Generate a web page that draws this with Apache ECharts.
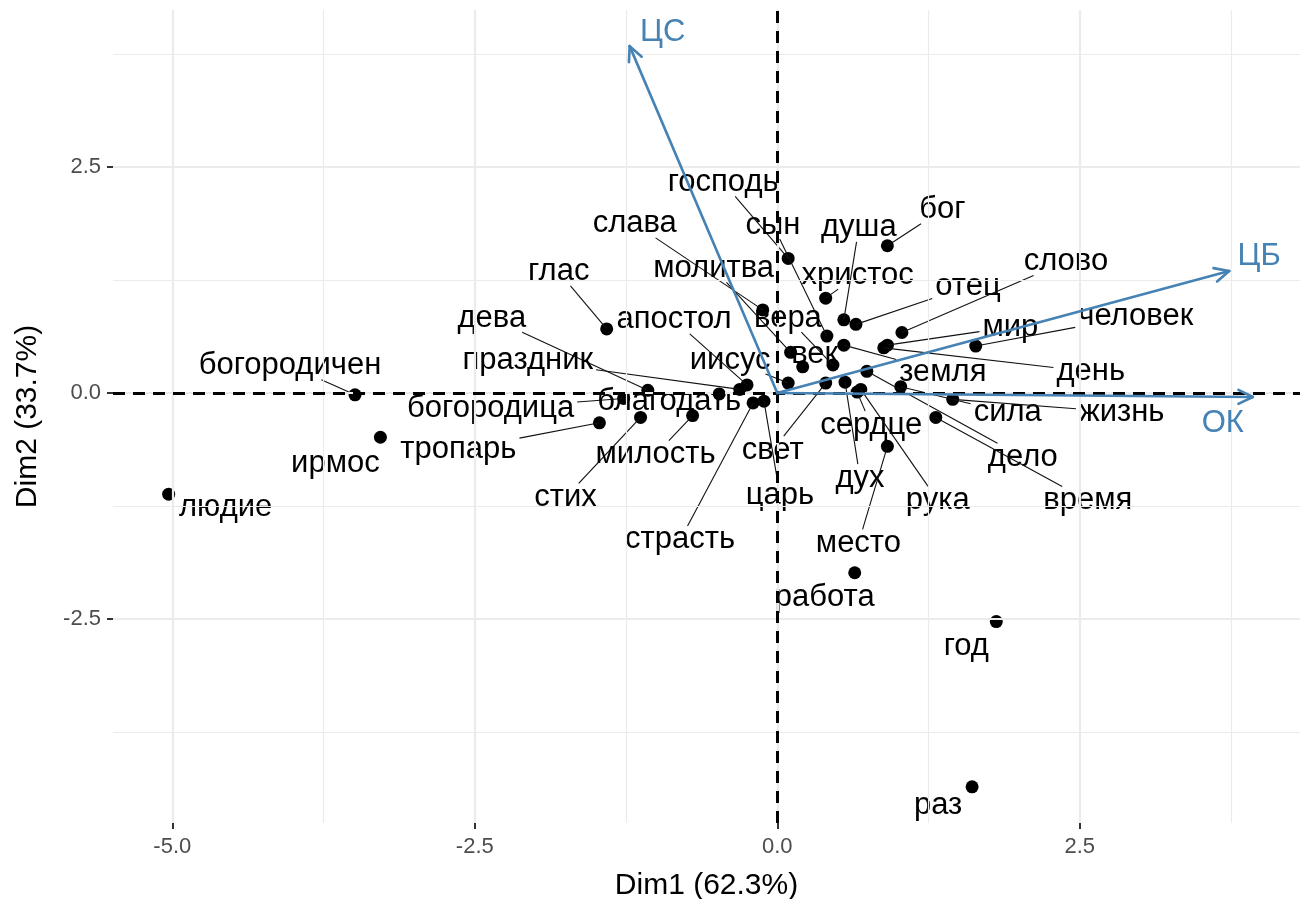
<!DOCTYPE html>
<html lang="ru">
<head>
<meta charset="UTF-8">
<title>PCA: слова и переменные</title>
<script src="https://cdn.jsdelivr.net/npm/echarts@6/dist/echarts.min.js"></script>
</head>
<body style="margin:0;background:#fff">
<div id="main" style="width:1314px;height:899px"></div>
<script>
// слова (индивиды) и их координаты
var words = ['людие','богородичен','ирмос','глас','дева','богородица','стих','тропарь','милость','благодать',
  'праздник','апостол','страсть','царь','господь','слава','молитва','иисус','христос','душа',
  'отец','сын','век','вера','земля','день','мир','слово','бог','человек',
  'дело','дух','свет','сердце','рука','сила','жизнь','время','место','работа','год','раз'];
var dim1 = [-5.03,-3.49,-3.28,-1.41,-1.07,-1.27,-1.13,-1.47,-0.70,-0.48,
  -0.31,-0.25,-0.20,-0.11,0.09,-0.12,0.11,0.09,0.40,0.55,
  0.65,0.41,0.21,0.46,0.55,0.88,0.91,1.03,0.91,1.64,
  0.74,0.56,0.40,0.66,0.69,1.02,1.45,1.31,0.91,0.64,1.81,1.61];
var dim2 = [-1.12,-0.02,-0.49,0.71,0.03,-0.06,-0.27,-0.33,-0.25,-0.01,
  0.04,0.09,-0.11,-0.09,1.49,0.92,0.45,0.11,1.05,0.81,
  0.76,0.63,0.29,0.31,0.53,0.50,0.53,0.67,1.63,0.52,
  0.24,0.12,0.11,0.01,0.04,0.07,-0.07,-0.27,-0.59,-1.99,-2.53,-4.36];

// переменные (стрелки)
var varNames = ['ЦС','ЦБ','ОК'];
var varDim1 = [-1.22, 3.735, 3.93];
var varDim2 = [3.84, 1.35, -0.044];

var xTicks = [-5, -2.5, 0, 2.5];
var yTicks = [-2.5, 0, 2.5];
var xMinor = [-3.75, -1.25, 1.25, 3.75];
var yMinor = [-3.75, -1.25, 1.25, 3.75];

// сдвиги подписей от точки, px (как разложил ggrepel)
var labelShift = [[57,13],[-65,-29],[-45,26],[-48,-57],[-156,-72],[-133,10],[-75,80],[-141,27],[-37,39],[-50,8],
  [-212,-29],[-73,-65],[-73,137],[16,94],[-65,-76],[-128,-86],[-77,-84],[-58,-23],[32,-23],[15,-92],
  [112,-38],[-54,-111],[12,-12],[-45,-47],[99,27],[207,24],[123,-18],[164,-71],[55,-36],[160,-30],
  [156,86],[15,96],[-53,67],[14,33],[77,111],[107,26],[169,13],[152,83],[-29,97],[-30,25],[-30,25],[-34,19]];
var varLabelShift = [[33,-14],[30,-15],[-30,26]];
// подписи, у которых ggrepel не провёл линию
var noSegment = ['людие', 'ирмос', 'работа', 'год', 'раз'];

var FONT = '31px "Liberation Sans", Arial, sans-serif';
var ctx = document.createElement('canvas').getContext('2d');
ctx.font = FONT;
function textW(s) { return ctx.measureText(s).width; }

var myChart = echarts.init(document.getElementById('main'));

function renderWord(params, api) {
    var i = api.value(2);
    var p = api.coord([api.value(0), api.value(1)]);
    var s = labelShift[i];
    var cx = p[0] + s[0], cy = p[1] + s[1];
    var hw = textW(words[i]) / 2 + 3, hh = 14;
    var dx = p[0] - cx, dy = p[1] - cy;
    var children = [];
    if (noSegment.indexOf(words[i]) < 0 && (Math.abs(dx) > hw || Math.abs(dy) > hh)) {
        var t = Math.min(hw / Math.max(Math.abs(dx), 1e-9), hh / Math.max(Math.abs(dy), 1e-9));
        var ex = cx + dx * t, ey = cy + dy * t;
        if (Math.hypot(p[0] - ex, p[1] - ey) > 12) {
            children.push({type: 'line', shape: {x1: p[0], y1: p[1], x2: ex, y2: ey},
                style: {stroke: '#111', lineWidth: 1.1}});
        }
    }
    children.push({type: 'text', x: cx, y: cy,
        style: {text: words[i], fill: '#000', font: FONT, align: 'center', verticalAlign: 'middle'}});
    return {type: 'group', children: children};
}

function renderArrow(params, api) {
    var i = api.value(2);
    var o = api.coord([0, 0]);
    var p = api.coord([api.value(0), api.value(1)]);
    var a = Math.atan2(p[1] - o[1], p[0] - o[0]);
    var L = 16, w = Math.PI / 7;
    var stroke = {stroke: '#4682B4', fill: null, lineWidth: 2.6, lineCap: 'round', lineJoin: 'round'};
    var s = varLabelShift[i];
    return {type: 'group', children: [
        {type: 'line', shape: {x1: o[0], y1: o[1], x2: p[0], y2: p[1]}, style: stroke},
        {type: 'line', shape: {x1: p[0], y1: p[1],
            x2: p[0] - L * Math.cos(a - w), y2: p[1] - L * Math.sin(a - w)}, style: stroke},
        {type: 'line', shape: {x1: p[0], y1: p[1],
            x2: p[0] - L * Math.cos(a + w), y2: p[1] - L * Math.sin(a + w)}, style: stroke},
        {type: 'text', x: p[0] + s[0], y: p[1] + s[1], style: {text: varNames[i], fill: '#4682B4',
            font: FONT, align: 'center', verticalAlign: 'middle'}}
    ]};
}

function vLines(vals, w) {
    return vals.map(function (v) { return {xAxis: v, lineStyle: {width: w}}; });
}
function hLines(vals, w) {
    return vals.map(function (v) { return {yAxis: v, lineStyle: {width: w}}; });
}

myChart.setOption({
    animation: false,
    grid: {left: 113, right: 14, top: 10, bottom: 76, containLabel: false, outerBoundsMode: 'none'},
    xAxis: {
        type: 'value', min: -5.49, max: 4.32,
        name: 'Dim1 (62.3%)', nameLocation: 'middle', nameGap: 48,
        nameTextStyle: {color: '#000', fontSize: 30, fontFamily: 'Liberation Sans'},
        axisLine: {show: false, onZero: false},
        axisTick: {show: true, customValues: xTicks, length: 6, lineStyle: {color: '#333', width: 2}},
        axisLabel: {customValues: xTicks, color: '#4d4d4d', fontSize: 22, margin: 13,
            fontFamily: 'Liberation Sans', formatter: function (v) { return v.toFixed(1); }},
        splitLine: {show: false}
    },
    yAxis: {
        type: 'value', min: -4.76, max: 4.24,
        name: 'Dim2 (33.7%)', nameLocation: 'middle', nameGap: 70, nameRotate: 90,
        nameTextStyle: {color: '#000', fontSize: 30, fontFamily: 'Liberation Sans'},
        axisLine: {show: false, onZero: false},
        axisTick: {show: true, customValues: yTicks, length: 6, lineStyle: {color: '#333', width: 2}},
        axisLabel: {customValues: yTicks, color: '#4d4d4d', fontSize: 22, margin: 12,
            fontFamily: 'Liberation Sans', formatter: function (v) { return v.toFixed(1); }},
        splitLine: {show: false}
    },
    series: [
        {   // сетка
            type: 'scatter', data: [], silent: true, z: 1,
            markLine: {silent: true, symbol: 'none', label: {show: false}, animation: false,
                lineStyle: {color: '#ebebeb', type: 'solid'},
                data: vLines(xTicks, 2.2).concat(vLines(xMinor, 1.2), hLines(yTicks, 2.2), hLines(yMinor, 1.2))}
        },
        {   // оси через ноль
            type: 'scatter', data: [], silent: true, z: 2,
            markLine: {silent: true, symbol: 'none', label: {show: false}, animation: false,
                lineStyle: {color: '#000', type: [12, 8], width: 3},
                data: [{xAxis: 0}, {yAxis: 0}]}
        },
        {
            type: 'scatter', z: 3, symbolSize: 13,
            itemStyle: {color: '#000', opacity: 1},
            data: words.map(function (w, i) { return [dim1[i], dim2[i]]; })
        },
        {
            type: 'custom', z: 4, silent: true, renderItem: renderWord,
            data: words.map(function (w, i) { return [dim1[i], dim2[i], i]; })
        },
        {
            type: 'custom', z: 5, silent: true, renderItem: renderArrow,
            data: varNames.map(function (n, i) { return [varDim1[i], varDim2[i], i]; })
        }
    ]
});
</script>
</body>
</html>
